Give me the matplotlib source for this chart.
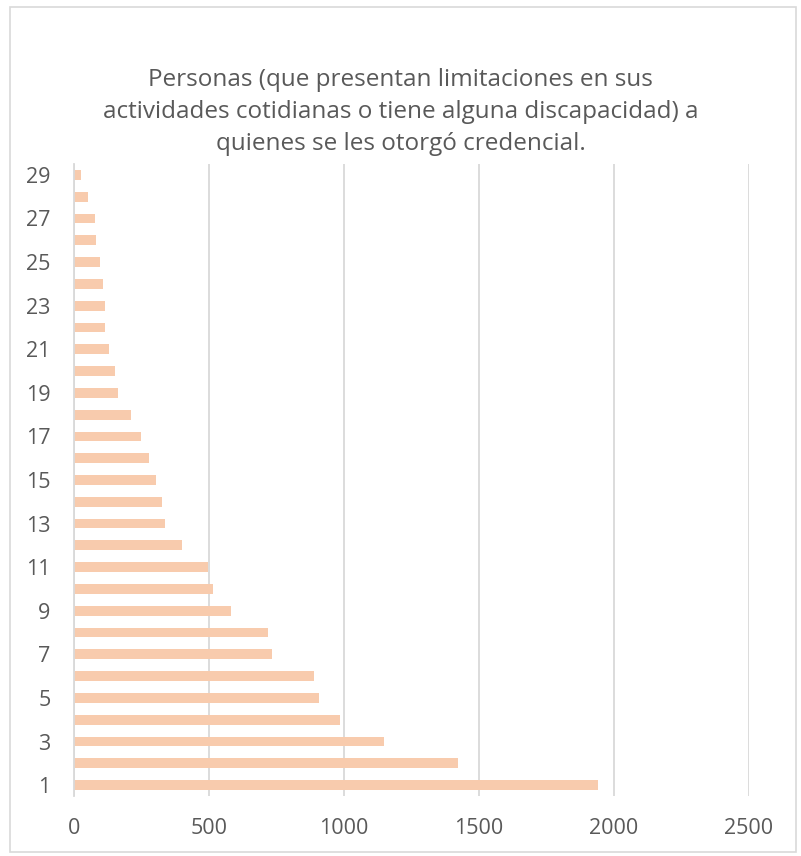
import matplotlib
matplotlib.use("Agg")
import matplotlib.pyplot as plt
from matplotlib.patches import Rectangle

plt.rcParams['font.family'] = ['Open Sans', 'DejaVu Sans']

# categories 1..29 and the counts
categories = list(range(1, 30))
counts = [1940, 1424, 1148, 984, 909, 889, 732, 719, 583, 515,
          496, 401, 336, 325, 304, 277, 249, 211, 163, 150,
          130, 116, 115, 109, 95, 83, 78, 50, 27]
xTicks = [0, 500, 1000, 1500, 2000, 2500]
title = ("Personas (que presentan limitaciones en sus\n"
         "actividades cotidianas o tiene alguna discapacidad) a\n"
         "quienes se les otorgó credencial.")

textColor = "#595959"
gridColor = "#D9D9D9"
barColor = "#F8CBAD"

fig = plt.figure(figsize=(8.01, 8.56), dpi=100)
ax = fig.add_axes([74 / 801, 60 / 856, 675 / 801, 632 / 856])

ax.barh(categories, counts, height=0.45, color=barColor, zorder=3)

ax.set_xlim(0, 2500)
ax.set_ylim(0.5, 29.5)
ax.set_xticks(xTicks)
ax.set_yticks(categories[::2])
ax.tick_params(axis='both', length=0, labelsize=15.5, colors=textColor)
ax.tick_params(axis='x', pad=16)
ax.tick_params(axis='y', pad=17)

ax.grid(axis='x', color=gridColor, linewidth=1.3, zorder=0)
for side in ['top', 'right', 'bottom']:
	ax.spines[side].set_visible(False)
ax.spines['left'].set_color(gridColor)
ax.spines['left'].set_linewidth(1.3)
ax.spines['left'].set_zorder(4)

fig.text(0.5, 1 - 112 / 856, title, ha='center', va='center',
         fontsize=17.5, color=textColor, linespacing=1.45)

# chart border
fig.patches.append(Rectangle((10 / 801, 4 / 856), 786 / 801, 845 / 856,
                             transform=fig.transFigure, fill=False,
                             edgecolor=gridColor, linewidth=1.2))

plt.savefig("out.png", dpi=100)
